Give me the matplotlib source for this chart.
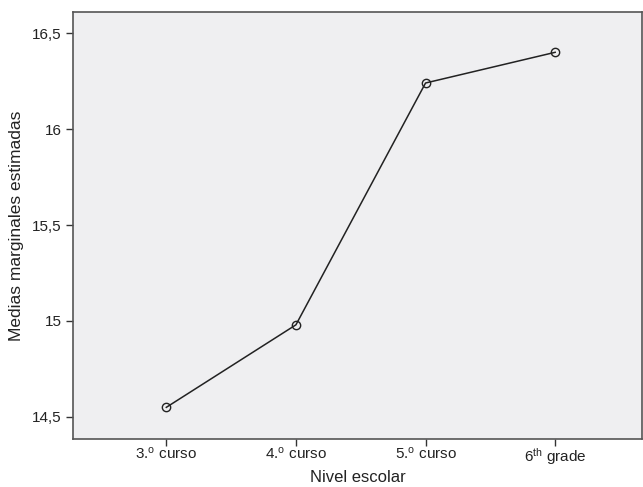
import numpy as np
import matplotlib
matplotlib.use('Agg')
import matplotlib.pyplot as plt

plt.rcParams['font.family'] = ['Liberation Sans', 'DejaVu Sans']
plt.rcParams['mathtext.default'] = 'regular'

# Daten
niveles = ['3.$^{o}$ curso', '4.$^{o}$ curso', '5.$^{o}$ curso', '6$^{th}$ grade']
medias = [14.55, 14.98, 16.24, 16.40]
y_ticks = [14.5, 15.0, 15.5, 16.0, 16.5]
y_tick_labels = ['14,5', '15', '15,5', '16', '16,5']

fig = plt.figure(figsize=(6.43, 4.87), dpi=100)
ax = fig.add_axes([73 / 643, 48 / 487, 569 / 643, 427 / 487])
ax.set_facecolor('#efeff1')

x = np.arange(len(niveles))
ax.plot(x, medias, color='#222222', linewidth=1.1, marker='o', markersize=6,
        markerfacecolor='none', markeredgecolor='#222222', markeredgewidth=1.0)

ax.set_xlim(-0.72, 3.67)
ax.set_ylim(14.385, 16.61)
ax.set_xticks(x)
ax.set_xticklabels(niveles)
ax.set_yticks(y_ticks)
ax.set_yticklabels(y_tick_labels)

for s in ax.spines.values():
    s.set_color('#555555')
    s.set_linewidth(1.2)
ax.tick_params(axis='both', direction='out', length=5, width=1.0, color='#333333',
               labelsize=11, labelcolor='#222222', pad=3)
ax.tick_params(axis='x', pad=0)

ax.set_xlabel('Nivel escolar', fontsize=12, color='#222222', labelpad=2)
ax.set_ylabel('Medias marginales estimadas', fontsize=12.5, color='#222222', labelpad=6)

fig.savefig('out.png', dpi=100)
